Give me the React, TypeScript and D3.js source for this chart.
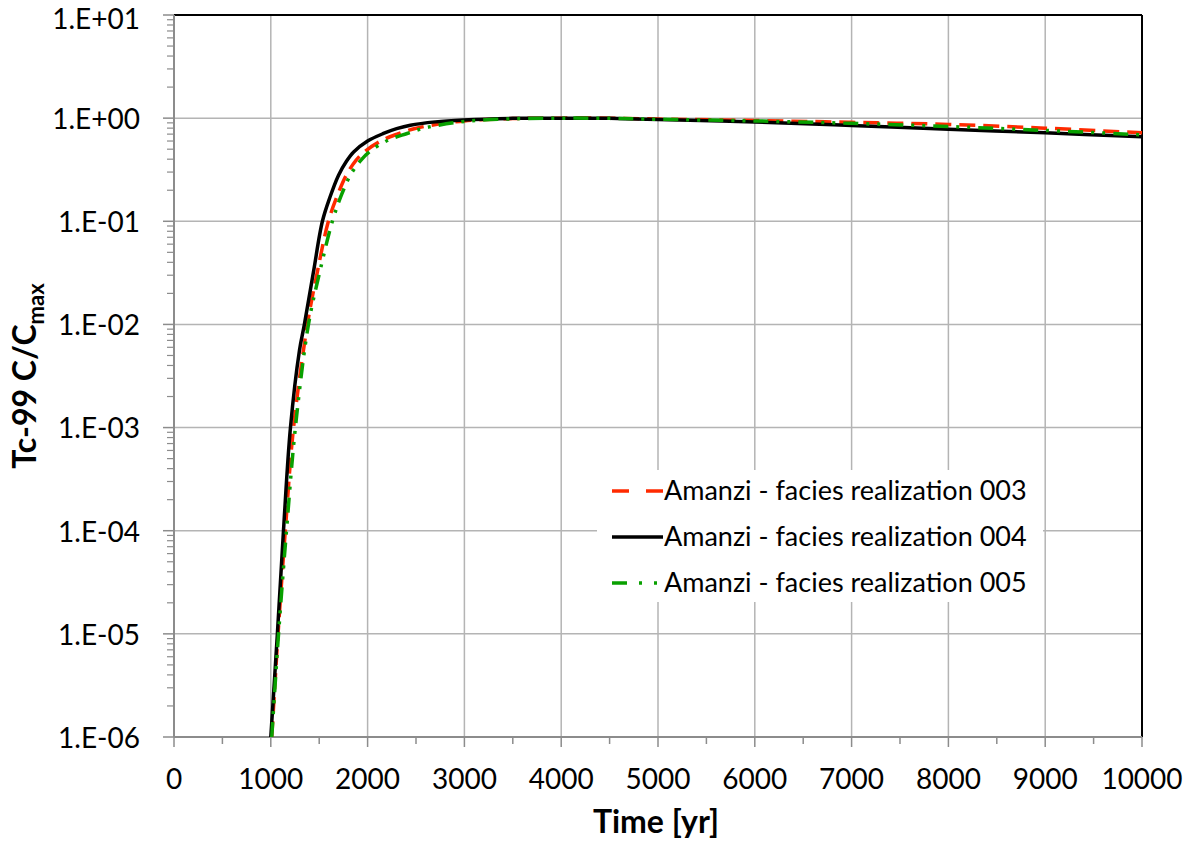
import React from "react";
import * as d3 from "d3";

const xTicks = [0, 1000, 2000, 3000, 4000, 5000, 6000, 7000, 8000, 9000, 10000];
const yTickLabels = ["1.E-06", "1.E-05", "1.E-04", "1.E-03", "1.E-02", "1.E-01", "1.E+00", "1.E+01"];
const yTickValues = [1e-6, 1e-5, 1e-4, 1e-3, 1e-2, 1e-1, 1, 10];

const seriesNames = [
  "Amanzi - facies realization 003",
  "Amanzi - facies realization 004",
  "Amanzi - facies realization 005",
];

const t003 = [1010, 1075, 1150, 1235, 1378, 1480, 1595, 1690, 1780, 1880, 1977, 2150, 2304, 2480, 2650, 3000, 3500, 4000, 4500, 5000, 6000, 7000, 8000, 9000, 10000];
const v003 = [1e-6, 1e-5, 1e-4, 1e-3, 1e-2, 3.2e-2, 0.1, 0.18, 0.28, 0.39, 0.48, 0.61, 0.7, 0.79, 0.85, 0.94, 0.99, 1.0, 1.0, 0.98, 0.95, 0.91, 0.87, 0.8, 0.72];

const t004 = [1000, 1068, 1131, 1203, 1296, 1347, 1440, 1533, 1610, 1700, 1780, 1856, 2000, 2164, 2300, 2442, 2700, 2990, 3500, 4000, 4500, 5000, 6000, 7000, 8000, 9000, 10000];
const v004 = [1e-6, 1e-5, 1e-4, 1e-3, 5.6e-3, 1e-2, 3.2e-2, 0.1, 0.17, 0.28, 0.38, 0.47, 0.6, 0.71, 0.79, 0.855, 0.92, 0.96, 0.995, 1.0, 0.995, 0.97, 0.92, 0.85, 0.78, 0.72, 0.66];

const t005 = [1010, 1080, 1162, 1254, 1389, 1505, 1636, 1730, 1822, 1930, 2030, 2210, 2408, 2560, 2718, 3050, 3500, 4000, 4500, 5000, 6000, 7000, 8000, 9000, 10000];
const v005 = [1e-6, 1e-5, 1e-4, 1e-3, 1e-2, 3.2e-2, 0.1, 0.18, 0.28, 0.39, 0.48, 0.61, 0.71, 0.79, 0.85, 0.94, 0.985, 1.0, 0.995, 0.975, 0.94, 0.89, 0.83, 0.76, 0.69];

const W = 1189;
const H = 841;
const M = { left: 174, right: 1142, top: 15, bottom: 737 };

export default function App() {
  const x = d3.scaleLinear().domain([0, 10000]).range([M.left, M.right]);
  const y = d3.scaleLog().domain([1e-6, 10]).range([M.bottom, M.top]);

  const line = d3
    .line<[number, number]>()
    .x((d) => x(d[0]))
    .y((d) => y(d[1]))
    .curve(d3.curveCatmullRom.alpha(0.5));

  const zip = (t: number[], v: number[]) => t.map((tt, i) => [tt, v[i]] as [number, number]);

  const series = [
    { name: seriesNames[0], data: zip(t003, v003), color: "#ff2a00", dash: "16,8", legendDash: "17,17" },
    { name: seriesNames[1], data: zip(t004, v004), color: "#000000", dash: "", legendDash: "" },
    { name: seriesNames[2], data: zip(t005, v005), color: "#08a000", dash: "15,8,3,8,3,8", legendDash: "15,12,3,12,3,12" },
  ];

  const minorY: number[] = [];
  for (let e = -6; e < 1; e++) {
    for (let k = 2; k <= 9; k++) minorY.push(k * Math.pow(10, e));
  }
  const minorX = d3.range(500, 10000, 1000);

  const font = "Lato, 'Open Sans', sans-serif";
  const gridColor = "#b4b4b4";
  const axisColor = "#8c8c8c";

  const legendX = 597;
  const legendY = 470;
  const legendRows = [491, 537, 583];

  return (
    <svg width={W} height={H} style={{ position: "absolute", left: 0, top: 0, background: "#fff" }}>
      <rect x={0} y={0} width={W} height={H} fill="#fff" />
      {xTicks.slice(1, -1).map((t) => (
        <line key={"gx" + t} x1={x(t)} x2={x(t)} y1={M.top} y2={M.bottom} stroke={gridColor} strokeWidth={1.5} />
      ))}
      {yTickValues.slice(1, -1).map((v) => (
        <line key={"gy" + v} x1={M.left} x2={M.right} y1={y(v)} y2={y(v)} stroke={gridColor} strokeWidth={1.5} />
      ))}
      {minorY.map((v, i) => (
        <line key={"my" + i} x1={M.left - 7} x2={M.left} y1={y(v)} y2={y(v)} stroke={axisColor} strokeWidth={1.2} />
      ))}
      {yTickValues.map((v) => (
        <line key={"My" + v} x1={M.left - 11} x2={M.left} y1={y(v)} y2={y(v)} stroke={axisColor} strokeWidth={1.5} />
      ))}
      {minorX.map((t) => (
        <line key={"mx" + t} x1={x(t)} x2={x(t)} y1={M.bottom} y2={M.bottom + 7} stroke={axisColor} strokeWidth={1.5} />
      ))}
      {xTicks.map((t) => (
        <line key={"Mx" + t} x1={x(t)} x2={x(t)} y1={M.bottom} y2={M.bottom + 10} stroke={axisColor} strokeWidth={1.5} />
      ))}
      <line x1={M.left} x2={M.right} y1={M.top} y2={M.top} stroke="#000" strokeWidth={2} />
      <line x1={M.right} x2={M.right} y1={M.top} y2={M.bottom} stroke="#000" strokeWidth={2} />
      <line x1={M.left} x2={M.left} y1={M.top} y2={M.bottom} stroke={axisColor} strokeWidth={2} />
      <line x1={M.left} x2={M.right} y1={M.bottom} y2={M.bottom} stroke={axisColor} strokeWidth={2} />

      {series.map((s) => (
        <path
          key={s.name}
          d={line(s.data) || ""}
          fill="none"
          stroke={s.color}
          strokeWidth={3.5}
          strokeDasharray={s.dash}
        />
      ))}

      {yTickValues.map((v, i) => (
        <text
          key={"ly" + v}
          x={140}
          y={Math.max(y(v) + 1, 19)}
          dy="0.35em"
          textAnchor="end"
          fontFamily={font}
          fontSize={28}
          fill="#000"
        >
          {yTickLabels[i]}
        </text>
      ))}
      {xTicks.map((t) => (
        <text key={"lx" + t} x={x(t)} y={779} dy="0.35em" textAnchor="middle" fontFamily={font} fontSize={28} fill="#000">
          {t}
        </text>
      ))}

      <text x={656} y={822} dy="0.35em" textAnchor="middle" fontFamily={font} fontSize={32} fontWeight="bold" fill="#000">
        Time [yr]
      </text>
      <text
        transform={`translate(25,376) rotate(-90)`}
        textAnchor="middle"
        dy="0.35em"
        fontFamily={font}
        fontSize={32}
        fontWeight="bold"
        fill="#000"
      >
        Tc-99 C/C
        <tspan fontSize={22} dy="0.35em">max</tspan>
      </text>

      <rect x={legendX} y={legendY} width={446} height={132} fill="#fff" />
      {series.map((s, i) => (
        <g key={"lg" + i}>
          <line
            x1={612}
            x2={663}
            y1={legendRows[i]}
            y2={legendRows[i]}
            stroke={s.color}
            strokeWidth={3.5}
            strokeDasharray={s.legendDash}
          />
          <text x={664} y={legendRows[i]} dy="0.35em" fontFamily={font} fontSize={27} fill="#000">
            {s.name}
          </text>
        </g>
      ))}
    </svg>
  );
}
